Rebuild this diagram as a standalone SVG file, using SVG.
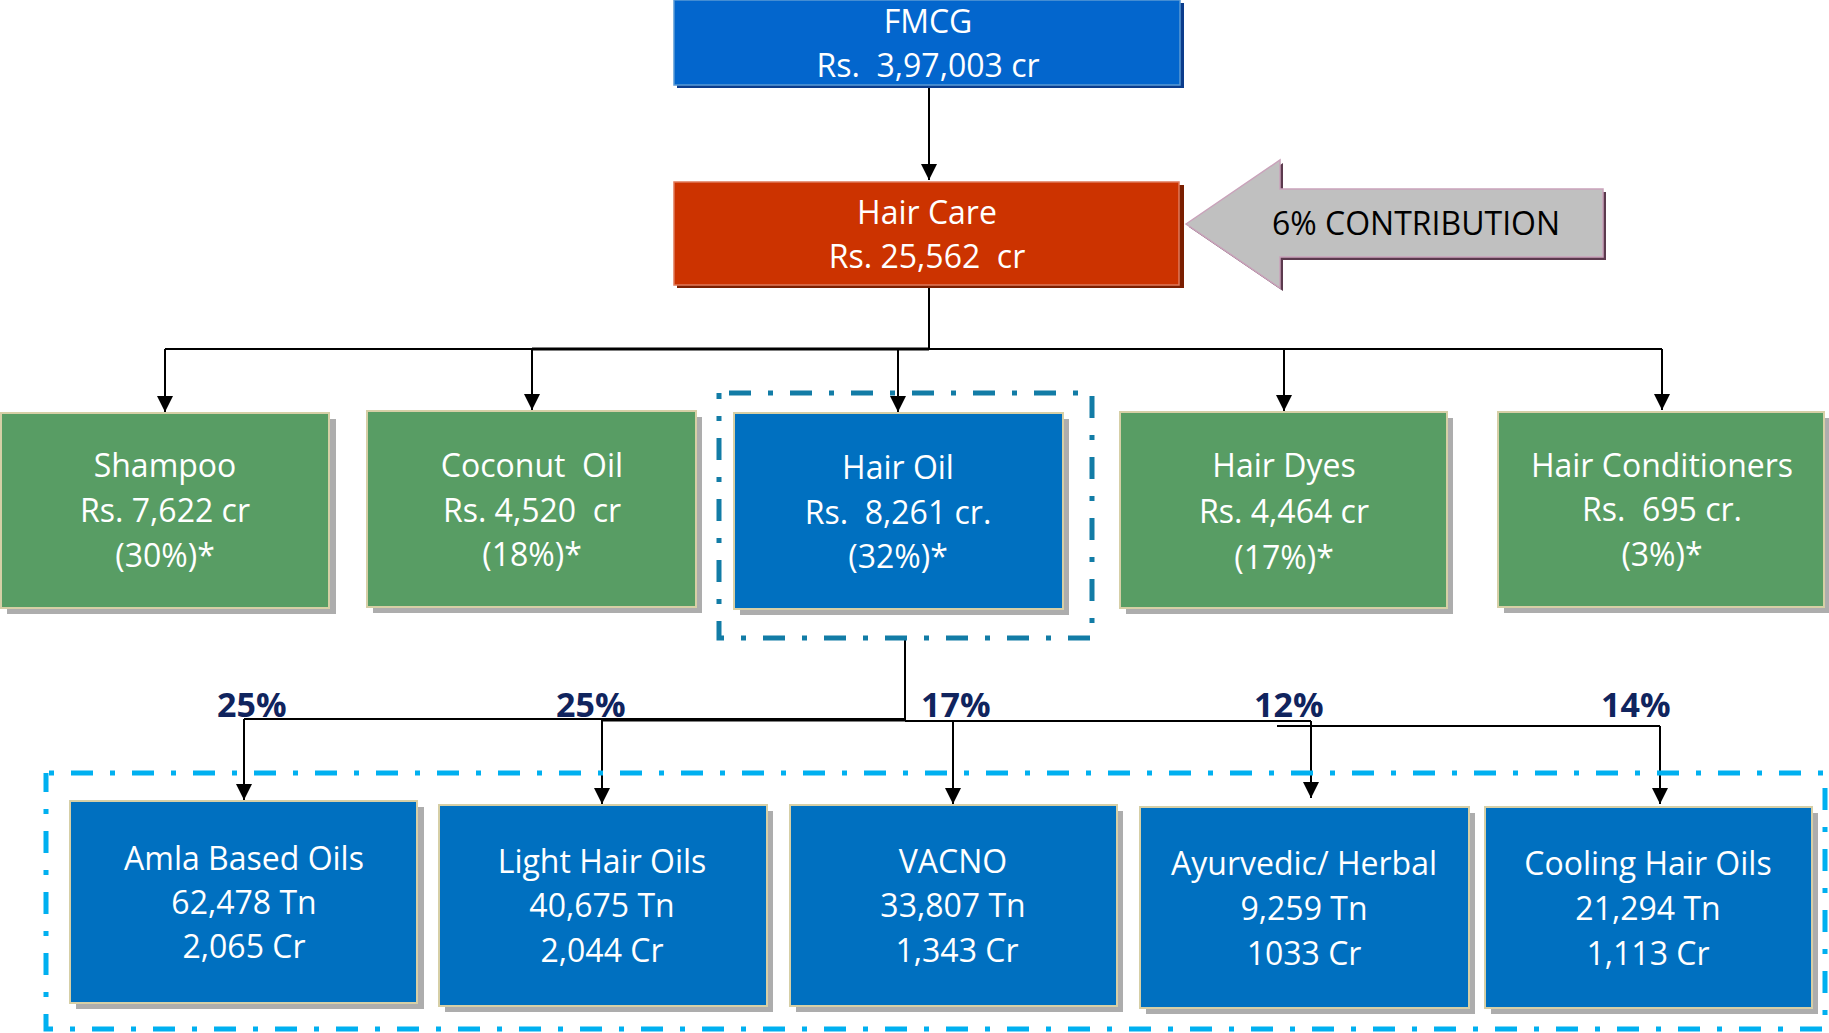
<svg xmlns="http://www.w3.org/2000/svg" width="1829" height="1033" viewBox="0 0 1829 1033">
<style>
.t{font-family:"Open Sans","Noto Sans","Liberation Sans",sans-serif;font-size:32px;fill:#fff;text-anchor:middle}
.k{font-family:"Open Sans","Noto Sans","Liberation Sans",sans-serif;font-size:32px;fill:#000}
.p{font-family:"Open Sans","Noto Sans","Liberation Sans",sans-serif;font-size:34px;font-weight:bold;fill:#10245E}
.g{fill:#589D64;stroke:#D6CFA6;stroke-width:2}
.b{fill:#0070C0;stroke:#D6CFA6;stroke-width:2}
.sh{fill:#ADADAD}
.c{stroke:#000;stroke-width:2;fill:none}
.ca{stroke:#000;stroke-width:2;fill:none;marker-end:url(#ah)}
.frame{fill:none;stroke-width:5;stroke-dasharray:22 17 5 17}
</style>
<defs>
<marker id="ah" markerUnits="userSpaceOnUse" markerWidth="16" markerHeight="16" viewBox="0 0 16 16" refX="16" refY="8" orient="auto">
<path d="M0,0 L16,8 L0,16 Z" fill="#000"/>
</marker>
</defs>
<rect width="1829" height="1033" fill="#fff"/>

<g id="connectors">
<path class="ca" d="M929,86 V180"/>
<path class="c" d="M929,288 V349"/>
<path class="c" d="M165,349 H1662"/>
<path d="M532,349 H929" stroke="#000" stroke-width="3"/>
<path class="ca" d="M165,349 V412"/>
<path class="ca" d="M532,349 V410"/>
<path class="ca" d="M898,349 V412"/>
<path class="ca" d="M1284,349 V411"/>
<path class="ca" d="M1662,349 V410"/>
<path class="c" d="M905,638 V721"/>
<path class="c" d="M244,719 H905"/>
<path d="M602,720 H905" stroke="#000" stroke-width="3"/>
<path class="c" d="M905,721 H1311"/>
<path class="c" d="M1277,726 H1660"/>
<path class="ca" d="M244,719 V800"/>
<path class="ca" d="M602,719 V804"/>
<path class="ca" d="M953,721 V804"/>
<path class="ca" d="M1311,721 V798"/>
<path class="ca" d="M1660,726 V804"/>
</g>

<g id="fmcg">
<rect x="677" y="3" width="507" height="85" fill="#0B3C8C"/>
<rect x="674" y="0" width="506" height="85" fill="#0366CD" stroke="#5B9BD5" stroke-width="1.5"/>
<text class="t" x="928" y="33">FMCG</text>
<text class="t" x="928" y="77" xml:space="preserve">Rs.  3,97,003 cr</text>
</g>

<g id="hair-care">
<rect x="677" y="185" width="507" height="103" fill="#7A1E00"/>
<rect x="674" y="182" width="505" height="103" fill="#CC3300" stroke="#E07A5A" stroke-width="1.5"/>
<text class="t" x="927" y="224">Hair Care</text>
<text class="t" x="927" y="268" xml:space="preserve">Rs. 25,562  cr</text>
</g>

<g id="contribution">
<polygon points="1189,227 1283,163 1283,192 1606,192 1606,260 1283,260 1283,291" fill="#5C3A4E"/>
<polygon points="1186,224 1280,160 1280,189 1603,189 1603,257 1280,257 1280,288" fill="#C0C0C0" stroke="#C9A2BA" stroke-width="1.5"/>
<text class="k" x="1272" y="235">6% CONTRIBUTION</text>
</g>

<g id="shampoo">
<rect class="sh" x="7" y="419" width="329" height="195"/>
<rect class="g" x="1" y="413" width="328" height="195"/>
<text class="t" x="165" y="477">Shampoo</text>
<text class="t" x="165" y="522">Rs. 7,622 cr</text>
<text class="t" x="165" y="567">(30%)*</text>
</g>

<g id="coconut-oil">
<rect class="sh" x="373" y="417" width="329" height="196"/>
<rect class="g" x="367" y="411" width="329" height="196"/>
<text class="t" x="532" y="477" xml:space="preserve">Coconut  Oil</text>
<text class="t" x="532" y="522" xml:space="preserve">Rs. 4,520  cr</text>
<text class="t" x="532" y="566">(18%)*</text>
</g>

<g id="hair-oil">
<rect class="frame" x="719" y="393" width="373" height="245" stroke="#127CA6" stroke-dashoffset="51"/>
<rect class="sh" x="740" y="419" width="329" height="196"/>
<rect class="b" x="734" y="413" width="329" height="196"/>
<text class="t" x="898" y="479">Hair Oil</text>
<text class="t" x="898" y="524" xml:space="preserve">Rs.  8,261 cr.</text>
<text class="t" x="898" y="568">(32%)*</text>
</g>

<g id="hair-dyes">
<rect class="sh" x="1126" y="418" width="327" height="196"/>
<rect class="g" x="1120" y="412" width="327" height="196"/>
<text class="t" x="1284" y="477">Hair Dyes</text>
<text class="t" x="1284" y="523">Rs. 4,464 cr</text>
<text class="t" x="1284" y="569">(17%)*</text>
</g>

<g id="hair-conditioners">
<rect class="sh" x="1504" y="418" width="326" height="195"/>
<rect class="g" x="1498" y="412" width="326" height="195"/>
<text class="t" x="1662" y="477">Hair Conditioners</text>
<text class="t" x="1662" y="521" xml:space="preserve">Rs.  695 cr.</text>
<text class="t" x="1662" y="566">(3%)*</text>
</g>

<g id="percent-labels">
<text class="p" x="217" y="717">25%</text>
<text class="p" x="556" y="717">25%</text>
<text class="p" x="921" y="717">17%</text>
<text class="p" x="1254" y="717">12%</text>
<text class="p" x="1601" y="717">14%</text>
</g>

<g id="oil-types-frame">
<rect class="frame" x="46" y="773" width="1779" height="256" stroke="#00B0F0" stroke-dashoffset="36"/>
</g>

<g id="amla">
<rect class="sh" x="76" y="807" width="348" height="202"/>
<rect class="b" x="70" y="801" width="347" height="202"/>
<text class="t" x="244" y="870">Amla Based Oils</text>
<text class="t" x="244" y="914">62,478 Tn</text>
<text class="t" x="244" y="958">2,065 Cr</text>
</g>

<g id="light-hair-oils">
<rect class="sh" x="445" y="811" width="328" height="201"/>
<rect class="b" x="439" y="805" width="328" height="201"/>
<text class="t" x="602" y="873">Light Hair Oils</text>
<text class="t" x="602" y="917">40,675 Tn</text>
<text class="t" x="602" y="962">2,044 Cr</text>
</g>

<g id="vacno">
<rect class="sh" x="796" y="811" width="327" height="201"/>
<rect class="b" x="790" y="805" width="327" height="201"/>
<text class="t" x="953" y="873">VACNO</text>
<text class="t" x="953" y="917">33,807 Tn</text>
<text class="t" x="957" y="962">1,343 Cr</text>
</g>

<g id="ayurvedic">
<rect class="sh" x="1146" y="813" width="329" height="201"/>
<rect class="b" x="1140" y="807" width="329" height="201"/>
<text class="t" x="1304" y="875">Ayurvedic/ Herbal</text>
<text class="t" x="1304" y="920">9,259 Tn</text>
<text class="t" x="1304" y="965">1033 Cr</text>
</g>

<g id="cooling">
<rect class="sh" x="1491" y="813" width="327" height="201"/>
<rect class="b" x="1485" y="807" width="327" height="201"/>
<text class="t" x="1648" y="875">Cooling Hair Oils</text>
<text class="t" x="1648" y="920">21,294 Tn</text>
<text class="t" x="1648" y="965">1,113 Cr</text>
</g>
</svg>
